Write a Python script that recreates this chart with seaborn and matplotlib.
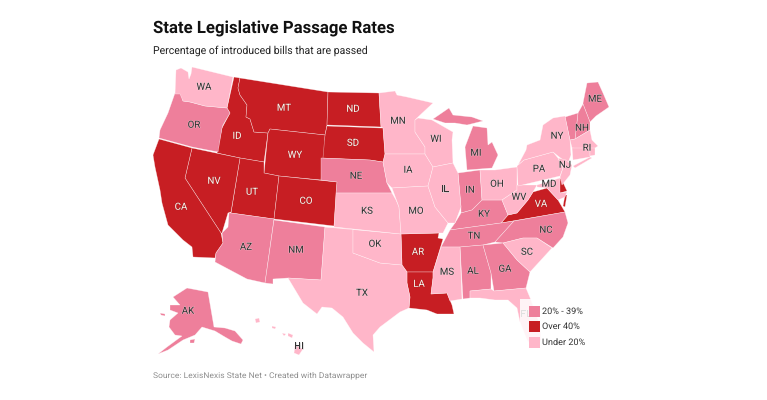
import matplotlib
matplotlib.use("Agg")
import matplotlib.pyplot as plt
import matplotlib.patheffects as pe
import seaborn as sns
import pandas as pd

TITLE = "State Legislative Passage Rates"
SUBTITLE = "Percentage of introduced bills that are passed"
SOURCE = "Source: LexisNexis State Net \u2022 Created with Datawrapper"
LEGEND_ORDER = ["20% - 39%", "Over 40%", "Under 20%"]

OVER40 = ["ID", "MT", "ND", "SD", "WY", "UT", "CO", "NV", "CA", "AR", "LA", "VA", "DE"]
MID = ["OR", "AZ", "NM", "NE", "MI", "IN", "KY", "TN", "NC", "AL", "GA", "ME", "NH", "VT", "AK"]
UNDER20 = ["WA", "TX", "OK", "KS", "MN", "IA", "MO", "WI", "IL", "MS", "FL", "SC", "OH", "WV",
           "PA", "NY", "NJ", "MD", "MA", "CT", "RI", "HI"]

# State outlines (map geometry)
OUTLINES = {
 "WA": [[(176,70),(181,68),(188,72),(189,79),(191,74),(192,67),(233,77),(227,108),(205,106),(190,102),(183,101),(180,94),(175,94)]],
 "OR": [[(175,93),(181,94),(183,101),(190,102),(205,106),(227,108),(230,113),(223,125),(222,128),(218,152),(192,147),(159,138),(160,130),(168,113)]],
 "CA": [[(159,139),(192,148),(185,178),(221,233),(223,243),(216,253),(215,258),(193,257),(192,247),(183,240),(168,225),(162,203),(160,190),(155,167),(153,155)]],
 "NV": [[(192,148),(240,158),(231,212),(228,213),(222,233),(221,233),(185,178)]],
 "ID": [[(234,77),(240,78),(238,88),(240,95),(247,105),(246,117),(250,119),(254,132),(268,133),(264,162),(240,158),(217,153),(222,128),(230,113),(227,108)]],
 "MT": [[(240,78),(328,92),(327,125),(325,135),(270,129),(268,133),(254,132),(250,119),(246,117),(247,105),(240,95),(238,88)]],
 "WY": [[(270,129),(325,135),(321,180),(279,176),(264,173),(268,133)]],
 "UT": [[(240,158),(264,162),(264,173),(279,176),(274,219),(231,213)]],
 "CO": [[(279,176),(337,182),(334,226),(274,219)]],
 "AZ": [[(229,213),(231,213),(274,219),(265,283),(247,279),(215,262),(216,253),(223,243),(222,233),(228,227)]],
 "NM": [[(274,220),(325,227),(321,280),(288,278),(273,279),(273,284),(265,283)]],
 "TX": [[(325,227),(353,229),(353,253),(380,263),(402,265),(407,272),(407,283),(410,297),(409,308),(400,312),(380,327),(373,335),(374,352),(363,343),(353,333),(343,317),(332,308),(322,307),(317,314),(303,303),(288,278),(321,280)]],
 "OK": [[(325,227),(401,234),(402,265),(380,263),(353,253),(353,229)]],
 "KS": [[(336,193),(392,193),(396,200),(399,207),(401,234),(334,227)]],
 "NE": [[(321,158),(370,160),(383,162),(387,183),(392,193),(336,193),(337,182),(321,180)]],
 "SD": [[(327,126),(381,128),(383,128),(385,154),(383,162),(370,160),(321,158),(325,135)]],
 "ND": [[(328,92),(379,93),(381,127),(327,125)]],
 "MN": [[(379,93),(395,91),(397,95),(407,97),(433,103),(418,117),(415,120),(415,132),(425,147),(425,154),(385,154),(383,128),(381,127)]],
 "IA": [[(385,154),(425,154),(433,167),(428,186),(392,188),(387,183),(383,162)]],
 "MO": [[(392,188),(428,186),(435,207),(448,223),(443,233),(439,233),(401,234),(399,207)]],
 "AR": [[(401,234),(439,233),(438,238),(443,239),(433,272),(407,272),(402,265)]],
 "LA": [[(407,272),(433,272),(433,278),(431,294),(447,293),(452,305),(454,314),(437,314),(427,310),(409,308),(410,297),(407,283)]],
 "WI": [[(418,118),(432,120),(453,132),(452,140),(453,163),(433,167),(425,154),(425,147),(415,132),(415,120)]],
 "IL": [[(433,167),(453,163),(458,173),(461,207),(455,223),(448,223),(435,207),(428,186)]],
 "IN": [[(458,173),(480,170),(482,200),(472,210),(461,213),(461,207)]],
 "OH": [[(480,170),(495,170),(517,167),(517,190),(502,200),(488,200),(482,200)]],
 "MI": [[(465,147),(473,126),(487,128),(488,145),(492,142),(498,155),(492,168),(467,170)],
        [(433,119),(449,108),(453,115),(472,117),(483,121),(467,125),(455,123),(445,123)]],
 "KY": [[(450,230),(455,223),(461,213),(472,210),(482,200),(488,200),(502,200),(508,215),(501,223)]],
 "TN": [[(450,230),(501,223),(514,221),(495,242),(483,245),(460,247),(441,247)]],
 "VA": [[(501,223),(508,215),(517,213),(528,200),(533,192),(547,188),(558,200),(565,212)]],
 "WV": [[(502,200),(517,190),(517,185),(527,185),(537,185),(533,192),(528,200),(517,213),(508,215)]],
 "PA": [[(517,166),(524,160),(553,152),(558,158),(563,168),(560,176),(518,186)]],
 "NY": [[(518,165),(526,150),(527,145),(540,140),(543,125),(553,118),(565,116),(570,140),(571,155),(568,163),(563,160),(553,152),(524,160)],
        [(573,166),(590,157),(592,158),(575,168)]],
 "NJ": [[(558,158),(566,160),(572,165),(570,175),(562,185),(560,177),(563,168)]],
 "MD": [[(537,185),(560,178),(560,193),(567,192),(565,197),(558,200),(547,188),(537,187)]],
 "DE": [[(558,180),(561,178),(567,191),(560,193)],[(563,206),(565,195),(567,195),(565,207)]],
 "ME": [[(587,83),(598,82),(603,93),(609,107),(596,116),(590,122),(583,104),(583,103)]],
 "NH": [[(578,113),(583,104),(590,122),(590,130),(575,139)]],
 "VT": [[(565,117),(578,113),(575,139),(570,140)]],
 "MA": [[(570,140),(575,139),(590,130),(592,140),(598,146),(592,150),(572,148)]],
 "CT": [[(572,148),(590,148),(590,157),(573,160)]],
 "RI": [[(590,148),(595,148),(595,155),(590,156)]],
 "NC": [[(514,221),(565,212),(568,223),(563,237),(553,248),(537,238),(523,238),(503,243),(495,242)]],
 "SC": [[(503,243),(523,238),(537,238),(552,248),(530,272),(517,260)]],
 "GA": [[(483,245),(503,243),(517,260),(530,272),(526,288),(494,291),(491,273)]],
 "AL": [[(460,247),(483,245),(491,273),(491,289),(470,291),(470,298),(463,299)]],
 "MS": [[(441,247),(460,247),(462,299),(450,301),(447,293),(431,294),(433,278),(433,272)]],
 "FL": [[(470,291),(491,289),(494,291),(526,288),(531,300),(540,325),(541,340),(534,348),(527,340),(520,322),(517,308),(508,300),(495,300),(480,298),(470,298)]],
 "AK": [[(173,297),(187,288),(208,292),(214,327),(225,328),(235,331),(243,340),(241,344),(232,341),(225,337),(215,331),(202,327),(195,335),(183,340),(168,350),(158,354),(167,347),(182,336),(175,335),(169,327),(170,320),(178,313),(170,310),(170,305),(180,305)],
        [(160,313),(165,314),(165,316),(161,315)],[(190,340),(195,339),(194,343),(190,343)]],
 "HI": [[(255,319),(259,318),(260,322),(256,323)],[(272,326),(276,327),(275,329),(272,328)],
        [(282,333),(286,334),(284,336)],[(288,333),(293,335),(292,338),(288,336)],
        [(295,345),(303,349),(299,355),(294,353)]],
}

LABEL_XY = {
 "WA":(204,87),"OR":(194,125),"CA":(181,207),"NV":(214,181),"ID":(237,136),"MT":(284,108),"WY":(295,155),
 "UT":(252,192),"CO":(306,201),"AZ":(246,247),"NM":(296,250),"ND":(353,109),"SD":(353,143),"NE":(356,176),
 "KS":(367,211),"OK":(375,244),"TX":(362,293),"MN":(398,121),"IA":(408,170),"MO":(416,211),"AR":(418,252),
 "LA":(419,284),"WI":(436,139),"IL":(445,189),"MS":(447,272),"MI":(476,153),"IN":(470,190),"KY":(484,214),
 "TN":(474,236),"AL":(473,271),"GA":(505,269),"OH":(497,184),"WV":(519,197),"VA":(541,204),"NC":(546,230),
 "SC":(527,252),"PA":(539,169),"NY":(557,136),"NJ":(565,165),"MD":(549,184),"NH":(582,128),"ME":(595,99),
 "RI":(587,148),"AK":(188,311),"HI":(299,346),"FL":(526,314),
}

sns.set_theme(style="white")
plt.rcParams["font.family"] = ["Roboto", "DejaVu Sans"]
plt.rcParams["text.hinting"] = "none"

palette = dict(zip(LEGEND_ORDER, ["#ee7f9b", "#c71e23", "#ffb6c9"]))
rows = [(s, "Over 40%") for s in OVER40] + [(s, "20% - 39%") for s in MID] + [(s, "Under 20%") for s in UNDER20]
df = pd.DataFrame(rows, columns=["state", "bin"])

fig = plt.figure(figsize=(7.67, 4.0), dpi=100)
ax = fig.add_axes([0, 0, 1, 1])
ax.set_xlim(0, 767)
ax.set_ylim(400, 0)
ax.axis("off")

for row in df.itertuples():
    for ring in OUTLINES[row.state]:
        xs, ys = zip(*ring)
        ax.fill(xs, ys, facecolor=palette[row.bin], edgecolor=(1, 1, 1, 0.6), linewidth=0.35, zorder=2)

for row in df.itertuples():
    if row.state not in LABEL_XY:
        continue
    x, y = LABEL_XY[row.state]
    dark = row.bin == "Over 40%"
    ax.text(x, y, row.state, ha="center", va="center", fontsize=7,
            color="#f6f0e8" if dark else "#333333", zorder=3,
            path_effects=[pe.withStroke(linewidth=0.6, foreground="#8c1a1c" if dark else "#ffffff", alpha=0.5)])

# legend with its translucent white backing
ax.fill([520, 592, 592, 520], [299, 299, 352, 352], facecolor="white", alpha=0.85, edgecolor="none", zorder=4)
for label, y in zip(LEGEND_ORDER, [311.5, 326.5, 342]):
    ax.fill([529, 539.5, 539.5, 529], [y-5.5, y-5.5, y+5.5, y+5.5], facecolor=palette[label], edgecolor="none", zorder=5)
    ax.text(542, y, label, ha="left", va="center", fontsize=6.6, color="#333333", zorder=5)

ax.text(153, 29, TITLE, ha="left", va="center", fontsize=12.1, fontweight="bold", color="#111111")
ax.text(153, 51, SUBTITLE, ha="left", va="center", fontsize=7.6, color="#222222")
ax.text(153, 375.5, SOURCE, ha="left", va="center", fontsize=6.1, color="#8f8f8f")

fig.savefig("out.png", dpi=100)
